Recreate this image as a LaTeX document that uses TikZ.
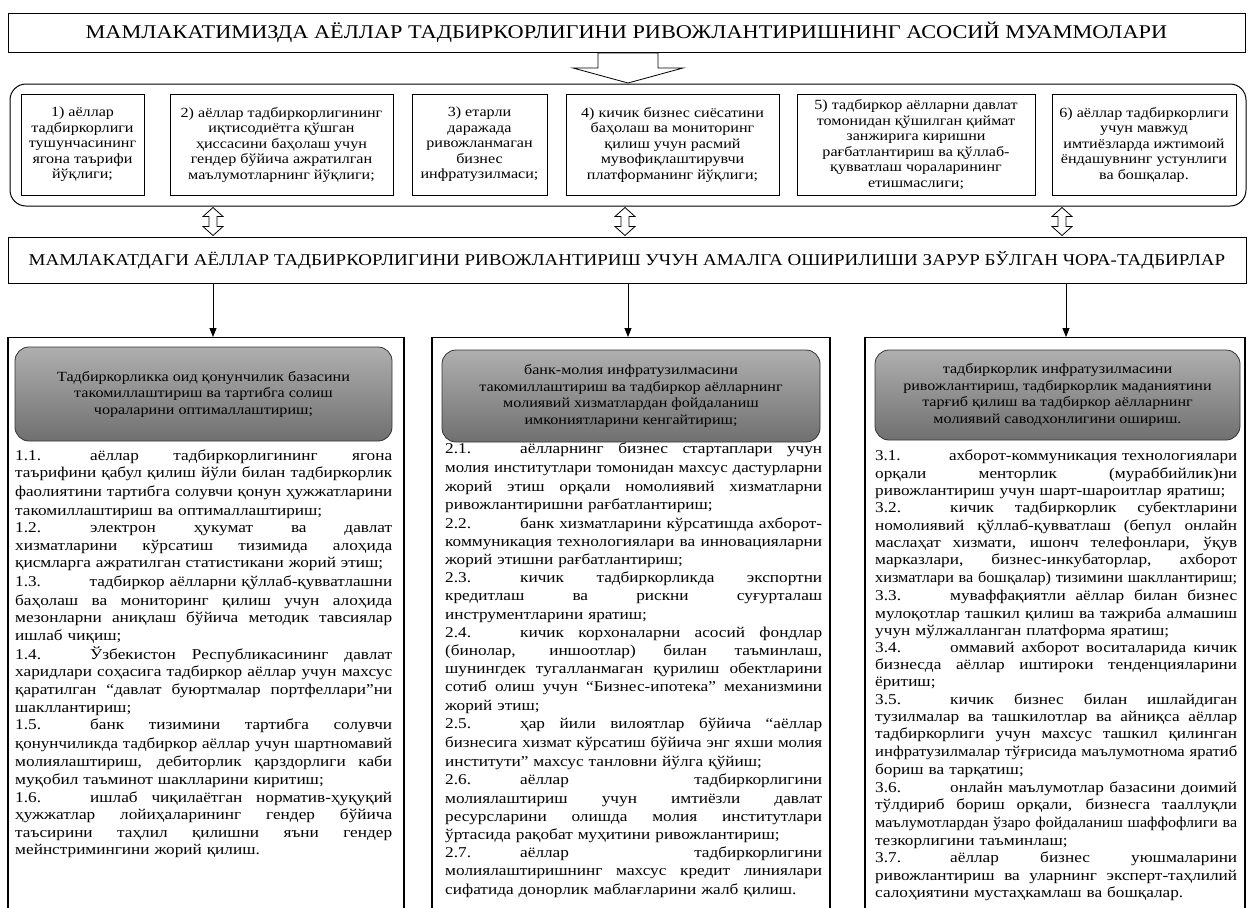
\documentclass[tikz,border=0pt]{standalone}
\usepackage{fontspec}
\setmainfont{Liberation Serif}[FakeStretch=1.15]
\usepackage{graphicx}
\usetikzlibrary{arrows.meta,calc}
\setlength{\parindent}{0pt}
\definecolor{gtop}{RGB}{175,175,175}
\definecolor{gbot}{RGB}{112,112,112}
\newdimen\colW
\colW=377pt
\newcommand{\JL}[1]{\sbox0{#1}\ifdim\wd0>\colW\resizebox{\colW}{\height}{\strut#1}\else\makebox[\colW][s]{\spaceskip=\fontdimen2\font plus 1fil\relax\strut#1}\fi\par}
\newcommand{\EL}[1]{\sbox0{#1}\ifdim\wd0>\colW\resizebox{\colW}{\height}{\strut#1}\else\mbox{\strut#1}\fi\par}
\newcommand{\TN}[1]{\makebox[75pt][l]{#1}}
\begin{document}
\begin{tikzpicture}[x=1pt,y=-1pt,
  hbox/.style={draw, line width=0.8pt, inner sep=0pt},
  tbox/.style={draw, line width=0.9pt, inner sep=0pt, align=center, minimum height=101pt, font=\fontsize{14}{15.5}\selectfont},
  colbox/.style={draw, line width=1.2pt, inner sep=0pt, anchor=north, minimum height=600pt},
  gbox/.style={draw=black!80, line width=0.8pt, rounded corners=14pt, top color=gtop, bottom color=gbot, inner sep=0pt, align=center, font=\fontsize{14}{16.5}\selectfont},
  coltext/.style={anchor=north west, inner sep=0pt, align=left, text width=#1},
  conn/.style={-{Triangle[width=7pt,length=9pt]}, line width=0.8pt},
  dblarrow/.pic={\draw[line width=0.8pt, fill=white] (0,-14) -- (10,-5) -- (4,-5) -- (4,5) -- (10,5) -- (0,14) -- (-10,5) -- (-4,5) -- (-4,-5) -- (-10,-5) -- cycle;}
]
\useasboundingbox (0,0) rectangle (1251,908);
\clip (0,0) rectangle (1251,908);
\fill[white] (0,0) rectangle (1251,908);

% title 1
\node[hbox, minimum width=1237pt, minimum height=39pt, font=\fontsize{19.4}{22}\selectfont] (t1) at (626.5,32.5)
  {МАМЛАКАТИМИЗДА АЁЛЛАР ТАДБИРКОРЛИГИНИ РИВОЖЛАНТИРИШНИНГ АСОСИЙ МУАММОЛАРИ};

% big hollow arrow
\draw[line width=0.8pt, fill=white] (598,53) -- (658,53) -- (658,68) -- (683,68) -- (628,83) -- (573,68) -- (598,68) -- cycle;

% container
\node[draw, line width=1pt, rounded corners=16pt, minimum width=1236pt, minimum height=122pt, inner sep=0pt] (cont) at (628,145) {};

% problem boxes
\node[tbox, minimum width=123pt] (b1) at (82.5,144.5) {1) аёллар\\тадбиркорлиги\\тушунчасининг\\ягона таърифи\\йўқлиги;};
\node[tbox, minimum width=223pt] (b2) at (281.5,144.5) {2) аёллар тадбиркорлигининг\\иқтисодиётга қўшган\\ҳиссасини баҳолаш учун\\гендер бўйича ажратилган\\маълумотларнинг йўқлиги;};
\node[tbox, minimum width=135pt] (b3) at (479.5,144.5) {3) етарли\\даражада\\ривожланмаган\\бизнес\\инфратузилмаси;};
\node[tbox, minimum width=213pt] (b4) at (672.5,144.5) {4) кичик бизнес сиёсатини\\баҳолаш ва мониторинг\\қилиш учун расмий\\мувофиқлаштирувчи\\платформанинг йўқлиги;};
\node[tbox, minimum width=238pt] (b5) at (916,144.5) {5) тадбиркор аёлларни давлат\\томонидан қўшилган қиймат\\занжирига киришни\\рағбатлантириш ва қўллаб-\\қувватлаш чораларининг\\етишмаслиги;};
\node[tbox, minimum width=184pt] (b6) at (1144,144.5) {6) аёллар тадбиркорлиги\\учун мавжуд\\имтиёзларда ижтимоий\\ёндашувнинг устунлиги\\ва бошқалар.};

% title 2
\node[hbox, minimum width=1238pt, minimum height=46pt, font=\fontsize{16.5}{19}\selectfont] (t2) at (627,260)
  {МАМЛАКАТДАГИ АЁЛЛАР ТАДБИРКОРЛИГИНИ РИВОЖЛАНТИРИШ УЧУН АМАЛГА ОШИРИЛИШИ ЗАРУР БЎЛГАН ЧОРА-ТАДБИРЛАР};

% double arrows between container and title 2
\pic at (213,221.5) {dblarrow};
\pic at (625,221.5) {dblarrow};
\pic at (1062,221.5) {dblarrow};

% columns
\node[colbox, minimum width=396pt] (c1) at (206,337) {};
\node[colbox, minimum width=398pt] (c2) at (631,337) {};
\node[colbox, minimum width=380pt] (c3) at (1055,337) {};

\coordinate (ax1) at (213,0);
\coordinate (ax2) at (628,0);
\coordinate (ax3) at (1066,0);
\draw[conn] (t2.south -| ax1) -- (c1.north -| ax1);
\draw[conn] (t2.south -| ax2) -- (c2.north -| ax2);
\draw[conn] (t2.south -| ax3) -- (c3.north -| ax3);

% grey headers
\node[gbox, minimum width=377pt, minimum height=94pt] (g1) at (203.5,394) {Тадбиркорликка оид қонунчилик базасини\\такомиллаштириш ва тартибга солиш\\чораларини оптималлаштириш;};
\node[gbox, minimum width=378pt, minimum height=92pt] (g2) at (631,396) {банк-молия инфратузилмасини\\такомиллаштириш ва тадбиркор аёлларнинг\\молиявий хизматлардан фойдаланиш\\имкониятларини кенгайтириш;};
\node[gbox, minimum width=365pt, minimum height=90pt] (g3) at (1057.5,395) {тадбиркорлик инфратузилмасини\\ривожлантириш, тадбиркорлик маданиятини\\тарғиб қилиш ва тадбиркор аёлларнинг\\молиявий саводхонлигини ошириш.};

% column texts
\node[coltext=377pt, font=\fontsize{15}{17.6}\selectfont] (x1) at (15,447.7) {\colW=377pt
\JL{\TN{1.1.}аёллар тадбиркорлигининг ягона}
\JL{таърифини қабул қилиш йўли билан тадбиркорлик}
\JL{фаолиятини тартибга солувчи қонун ҳужжатларини}
\EL{такомиллаштириш ва оптималлаштириш;}
\JL{\TN{1.2.}электрон ҳукумат ва давлат}
\JL{хизматларини кўрсатиш тизимида алоҳида}
\EL{қисмларга ажратилган статистикани жорий этиш;}
\JL{\TN{1.3.}тадбиркор аёлларни қўллаб-қувватлашни}
\JL{баҳолаш ва мониторинг қилиш учун алоҳида}
\JL{мезонларни аниқлаш бўйича методик тавсиялар}
\EL{ишлаб чиқиш;}
\JL{\TN{1.4.}Ўзбекистон Республикасининг давлат}
\JL{харидлари соҳасига тадбиркор аёллар учун махсус}
\JL{қаратилган “давлат буюртмалар портфеллари”ни}
\EL{шакллантириш;}
\JL{\TN{1.5.}банк тизимини тартибга солувчи}
\JL{қонунчиликда тадбиркор аёллар учун шартномавий}
\JL{молиялаштириш, дебиторлик қарздорлиги каби}
\EL{муқобил таъминот шаклларини киритиш;}
\JL{\TN{1.6.}ишлаб чиқилаётган норматив-ҳуқуқий}
\JL{ҳужжатлар лойиҳаларининг гендер бўйича}
\JL{таъсирини таҳлил қилишни яъни гендер}
\EL{мейнстримингини жорий қилиш.}};

\node[coltext=377pt, font=\fontsize{15}{18.2}\selectfont] (x2) at (445,440.3) {\colW=377pt
\JL{\TN{2.1.}аёлларнинг бизнес стартаплари учун}
\JL{молия институтлари томонидан махсус дастурларни}
\JL{жорий этиш орқали номолиявий хизматларни}
\EL{ривожлантиришни рағбатлантириш;}
\JL{\TN{2.2.}банк хизматларини кўрсатишда ахборот-}
\JL{коммуникация технологиялари ва инновацияларни}
\EL{жорий этишни рағбатлантириш;}
\JL{\TN{2.3.}кичик тадбиркорликда экспортни}
\JL{кредитлаш ва рискни суғурталаш}
\EL{инструментларини яратиш;}
\JL{\TN{2.4.}кичик корхоналарни асосий фондлар}
\JL{(бинолар, иншоотлар) билан таъминлаш,}
\JL{шунингдек тугалланмаган қурилиш обектларини}
\JL{сотиб олиш учун “Бизнес-ипотека” механизмини}
\EL{жорий этиш;}
\JL{\TN{2.5.}ҳар йили вилоятлар бўйича “аёллар}
\JL{бизнесига хизмат кўрсатиш бўйича энг яхши молия}
\EL{институти” махсус танловни йўлга қўйиш;}
\JL{\TN{2.6.}аёллар тадбиркорлигини}
\JL{молиялаштириш учун имтиёзли давлат}
\JL{ресурсларини олишда молия институтлари}
\EL{ўртасида рақобат муҳитини ривожлантириш;}
\JL{\TN{2.7.}аёллар тадбиркорлигини}
\JL{молиялаштиришнинг махсус кредит линиялари}
\EL{сифатида донорлик маблағларини жалб қилиш.}};

\node[coltext=362pt, font=\fontsize{15}{17.2}\selectfont] (x3) at (875,448) {\colW=362pt
\JL{\TN{3.1.}ахборот-коммуникация технологиялари}
\JL{орқали менторлик (мураббийлик)ни}
\EL{ривожлантириш учун шарт-шароитлар яратиш;}
\JL{\TN{3.2.}кичик тадбиркорлик субектларини}
\JL{номолиявий қўллаб-қувватлаш (бепул онлайн}
\JL{маслаҳат хизмати, ишонч телефонлари, ўқув}
\JL{марказлари, бизнес-инкубаторлар, ахборот}
\EL{хизматлари ва бошқалар) тизимини шакллантириш;}
\JL{\TN{3.3.}муваффақиятли аёллар билан бизнес}
\JL{мулоқотлар ташкил қилиш ва тажриба алмашиш}
\EL{учун мўлжалланган платформа яратиш;}
\JL{\TN{3.4.}оммавий ахборот воситаларида кичик}
\JL{бизнесда аёллар иштироки тенденцияларини}
\EL{ёритиш;}
\JL{\TN{3.5.}кичик бизнес билан ишлайдиган}
\JL{тузилмалар ва ташкилотлар ва айниқса аёллар}
\JL{тадбиркорлиги учун махсус ташкил қилинган}
\JL{инфратузилмалар тўғрисида маълумотнома яратиб}
\EL{бориш ва тарқатиш;}
\JL{\TN{3.6.}онлайн маълумотлар базасини доимий}
\JL{тўлдириб бориш орқали, бизнесга тааллуқли}
\JL{маълумотлардан ўзаро фойдаланиш шаффофлиги ва}
\EL{тезкорлигини таъминлаш;}
\JL{\TN{3.7.}аёллар бизнес уюшмаларини}
\JL{ривожлантириш ва уларнинг эксперт-таҳлилий}
\EL{салоҳиятини мустаҳкамлаш ва бошқалар.}};
\end{tikzpicture}
\end{document}
